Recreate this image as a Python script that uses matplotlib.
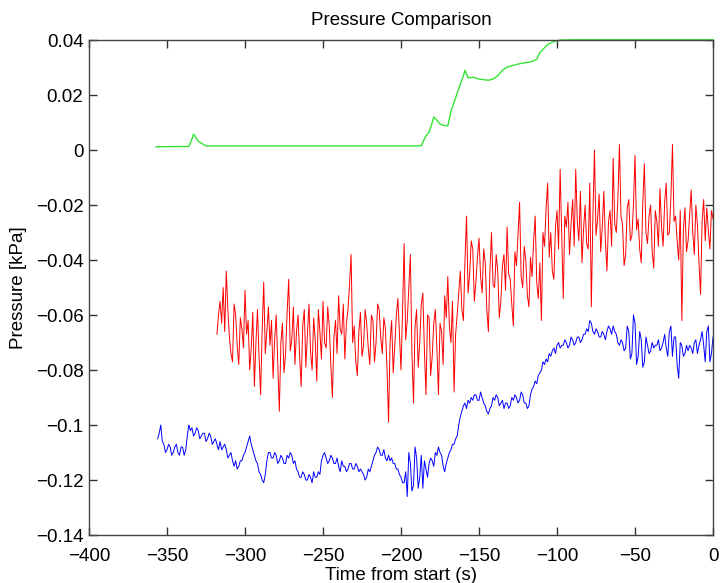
import numpy as np
import matplotlib
matplotlib.use("Agg")
import matplotlib.pyplot as plt
from matplotlib.ticker import FuncFormatter

plt.rcParams['font.family'] = ['Liberation Sans', 'DejaVu Sans']

green_t = [-357, -336, -334, -333, -332, -330, -328, -325, -190, -187, -184, -182,
           -180, -179, -177, -175, -173, -170, -168, -165, -162, -160, -159, -157,
           -154, -150, -146, -144, -141, -138, -135, -132, -128, -124, -120, -116,
           -113, -111, -108, -106, -103, -101, -98, -90, 0]
green_p = [0.0012, 0.0013, 0.0040, 0.0058, 0.0050, 0.0032, 0.0025, 0.0015, 0.0015, 0.0016,
           0.0052, 0.0065, 0.0100, 0.0120, 0.0108, 0.0095, 0.0090, 0.0088, 0.0140, 0.0190,
           0.0240, 0.0270, 0.0290, 0.0262, 0.0265, 0.0258, 0.0255, 0.0254, 0.0258, 0.0270,
           0.0290, 0.0302, 0.0308, 0.0314, 0.0318, 0.0322, 0.0330, 0.0354, 0.0372, 0.0384,
           0.0392, 0.0396, 0.0400, 0.0401, 0.0401]

# red trace, one value per second from -318 s to 0 s (10 per row)
red_p = [
    -0.067, -0.060, -0.055, -0.063, -0.050, -0.066, -0.044, -0.058, -0.068, -0.074,
    -0.077, -0.056, -0.060, -0.071, -0.078, -0.061, -0.065, -0.072, -0.051, -0.067,
    -0.062, -0.080, -0.072, -0.059, -0.086, -0.070, -0.058, -0.075, -0.089, -0.066,
    -0.048, -0.074, -0.066, -0.057, -0.071, -0.062, -0.083, -0.069, -0.060, -0.078,
    -0.095, -0.070, -0.063, -0.081, -0.074, -0.059, -0.047, -0.073, -0.069, -0.057,
    -0.078, -0.066, -0.060, -0.075, -0.086, -0.064, -0.058, -0.079, -0.067, -0.056,
    -0.073, -0.080, -0.061, -0.069, -0.084, -0.058, -0.066, -0.076, -0.055, -0.070,
    -0.072, -0.057, -0.064, -0.078, -0.090, -0.068, -0.062, -0.074, -0.053, -0.065,
    -0.067, -0.056, -0.076, -0.063, -0.058, -0.049, -0.038, -0.070, -0.064, -0.077,
    -0.082, -0.066, -0.059, -0.075, -0.071, -0.058, -0.063, -0.072, -0.078, -0.060,
    -0.062, -0.077, -0.070, -0.056, -0.058, -0.068, -0.074, -0.061, -0.065, -0.079,
    -0.099, -0.070, -0.062, -0.081, -0.071, -0.060, -0.054, -0.067, -0.080, -0.058,
    -0.034, -0.069, -0.062, -0.050, -0.038, -0.074, -0.092, -0.064, -0.058, -0.079,
    -0.070, -0.056, -0.052, -0.073, -0.089, -0.060, -0.061, -0.082, -0.075, -0.063,
    -0.058, -0.072, -0.089, -0.063, -0.066, -0.078, -0.053, -0.061, -0.046, -0.064,
    -0.070, -0.055, -0.088, -0.067, -0.060, -0.052, -0.044, -0.058, -0.062, -0.040,
    -0.024, -0.052, -0.045, -0.033, -0.036, -0.055, -0.048, -0.039, -0.032, -0.046,
    -0.052, -0.036, -0.041, -0.058, -0.066, -0.044, -0.030, -0.049, -0.050, -0.038,
    -0.044, -0.061, -0.055, -0.042, -0.038, -0.051, -0.028, -0.045, -0.047, -0.056,
    -0.064, -0.037, -0.042, -0.031, -0.019, -0.046, -0.050, -0.035, -0.040, -0.053,
    -0.057, -0.039, -0.046, -0.033, -0.024, -0.048, -0.054, -0.041, -0.062, -0.030,
    -0.035, -0.021, -0.012, -0.039, -0.030, -0.044, -0.047, -0.028, -0.022, -0.036,
    -0.007, -0.031, -0.054, -0.024, -0.028, -0.019, -0.038, -0.027, -0.018, -0.035,
    -0.007, -0.026, -0.033, -0.015, -0.041, -0.029, -0.020, -0.034, -0.036, -0.012,
    -0.057, -0.024, 0.000, -0.031, -0.025, -0.016, -0.037, -0.028, -0.015, -0.033,
    -0.044, -0.026, -0.022, -0.035, -0.003, -0.027, -0.030, -0.018, 0.002, -0.024,
    -0.027, -0.042, -0.038, -0.021, -0.018, -0.033, -0.031, -0.020, -0.002, -0.029,
    -0.025, -0.036, -0.041, -0.019, -0.005, -0.030, -0.034, -0.024, -0.020, -0.037,
    -0.043, -0.022, -0.026, -0.035, -0.014, -0.028, -0.035, -0.019, -0.012, -0.031,
    -0.030, -0.017, 0.002, -0.026, -0.024, -0.033, -0.040, -0.022, -0.062, -0.029,
    -0.021, -0.037, -0.033, -0.024, -0.0145, -0.030, -0.038, -0.020, -0.027, -0.041,
    -0.0525, -0.026, -0.018, -0.033, -0.021, -0.029, -0.036, -0.022, -0.025,
]

# blue trace, one value per second from -356 s to 0 s (10 per row)
blue_p = [
    -0.105, -0.103, -0.100, -0.106, -0.107, -0.110, -0.109, -0.107, -0.108, -0.111,
    -0.110, -0.108, -0.107, -0.110, -0.111, -0.108, -0.108, -0.111, -0.109, -0.104,
    -0.100, -0.102, -0.101, -0.104, -0.103, -0.101, -0.102, -0.105, -0.104, -0.103,
    -0.103, -0.106, -0.105, -0.103, -0.104, -0.107, -0.106, -0.105, -0.107, -0.109,
    -0.106, -0.109, -0.108, -0.107, -0.109, -0.112, -0.111, -0.110, -0.113, -0.115,
    -0.113, -0.116, -0.115, -0.113, -0.113, -0.111, -0.110, -0.108, -0.106, -0.104,
    -0.107, -0.109, -0.111, -0.113, -0.114, -0.117, -0.118, -0.120, -0.121, -0.118,
    -0.113, -0.110, -0.110, -0.112, -0.112, -0.110, -0.111, -0.114, -0.113, -0.111,
    -0.112, -0.114, -0.114, -0.111, -0.112, -0.110, -0.111, -0.114, -0.113, -0.116,
    -0.117, -0.119, -0.119, -0.117, -0.118, -0.120, -0.120, -0.118, -0.119, -0.121,
    -0.117, -0.119, -0.119, -0.117, -0.118, -0.113, -0.111, -0.110, -0.112, -0.114,
    -0.113, -0.111, -0.112, -0.114, -0.114, -0.112, -0.115, -0.117, -0.113, -0.115,
    -0.115, -0.117, -0.116, -0.114, -0.114, -0.116, -0.116, -0.114, -0.115, -0.117,
    -0.116, -0.117, -0.118, -0.120, -0.119, -0.116, -0.117, -0.115, -0.113, -0.111,
    -0.110, -0.108, -0.109, -0.111, -0.111, -0.109, -0.112, -0.113, -0.111, -0.113,
    -0.112, -0.114, -0.114, -0.116, -0.116, -0.118, -0.119, -0.121, -0.121, -0.117,
    -0.126, -0.110, -0.114, -0.124, -0.122, -0.108, -0.112, -0.123, -0.119, -0.111,
    -0.123, -0.113, -0.116, -0.119, -0.114, -0.112, -0.113, -0.115, -0.110, -0.111,
    -0.108, -0.110, -0.111, -0.115, -0.117, -0.114, -0.112, -0.110, -0.109, -0.107,
    -0.107, -0.105, -0.104, -0.100, -0.097, -0.095, -0.093, -0.092, -0.094, -0.091,
    -0.092, -0.090, -0.091, -0.089, -0.089, -0.091, -0.091, -0.088, -0.090, -0.092,
    -0.093, -0.095, -0.096, -0.094, -0.093, -0.090, -0.091, -0.089, -0.090, -0.093,
    -0.092, -0.091, -0.094, -0.092, -0.092, -0.094, -0.093, -0.090, -0.091, -0.089,
    -0.090, -0.092, -0.091, -0.088, -0.089, -0.092, -0.092, -0.094, -0.093, -0.089,
    -0.087, -0.086, -0.084, -0.085, -0.082, -0.081, -0.080, -0.077, -0.078, -0.076,
    -0.077, -0.074, -0.075, -0.073, -0.072, -0.074, -0.071, -0.070, -0.072, -0.071,
    -0.071, -0.069, -0.070, -0.072, -0.071, -0.068, -0.069, -0.071, -0.070, -0.068,
    -0.068, -0.070, -0.069, -0.067, -0.067, -0.065, -0.066, -0.062, -0.063, -0.066,
    -0.067, -0.065, -0.066, -0.068, -0.068, -0.066, -0.067, -0.069, -0.066, -0.064,
    -0.065, -0.067, -0.064, -0.066, -0.067, -0.070, -0.071, -0.069, -0.070, -0.073,
    -0.072, -0.064, -0.066, -0.076, -0.074, -0.060, -0.063, -0.078, -0.075, -0.066,
    -0.069, -0.079, -0.077, -0.068, -0.071, -0.074, -0.073, -0.070, -0.072, -0.071,
    -0.071, -0.069, -0.073, -0.072, -0.070, -0.067, -0.072, -0.075, -0.066, -0.064,
    -0.075, -0.068, -0.068, -0.078, -0.083, -0.070, -0.071, -0.075, -0.074, -0.071,
    -0.073, -0.071, -0.072, -0.074, -0.070, -0.069, -0.074, -0.071, -0.069, -0.066,
    -0.071, -0.077, -0.066, -0.064, -0.077, -0.074, -0.068,
]

red_t = np.arange(-(len(red_p) - 1), 1, 1)
blue_t = np.arange(-(len(blue_p) - 1), 1, 1)

fig = plt.figure(figsize=(7.23, 5.83), dpi=100)
ax = fig.add_axes([0.1231, 0.0823, 0.8631, 0.849])

ax.plot(green_t, green_p, color='#33e633', lw=1.0, clip_on=False)
ax.plot(red_t, red_p, color='#ff0000', lw=0.7)
ax.plot(blue_t, blue_p, color='#0000ff', lw=0.7)

ax.set_xlim(-400, 0)
ax.set_ylim(-0.14, 0.04)
ax.set_xticks(np.arange(-400, 1, 50))
ax.set_yticks(np.arange(-0.14, 0.041, 0.02))


def fmt(v, pos):
    s = f"{round(v, 4):g}"
    if s == "-0":
        s = "0"
    return s.replace("-", "\u2212")


ax.xaxis.set_major_formatter(FuncFormatter(fmt))
ax.yaxis.set_major_formatter(FuncFormatter(fmt))
ax.tick_params(direction='in', length=6, width=1, top=True, right=True,
               labelsize=13.5, colors='#333333', labelcolor='black')
ax.tick_params(axis='x', pad=9)
ax.tick_params(axis='y', pad=4)
for sp in ax.spines.values():
    sp.set_color('#444444')
    sp.set_linewidth(1.0)

ax.set_title('Pressure Comparison', fontsize=13.5, pad=11)
ax.set_xlabel('Time from start (s)', fontsize=13.5, labelpad=2)
ax.set_ylabel('Pressure [kPa]', fontsize=13.5, labelpad=6)

fig.savefig('out.png', dpi=100)
